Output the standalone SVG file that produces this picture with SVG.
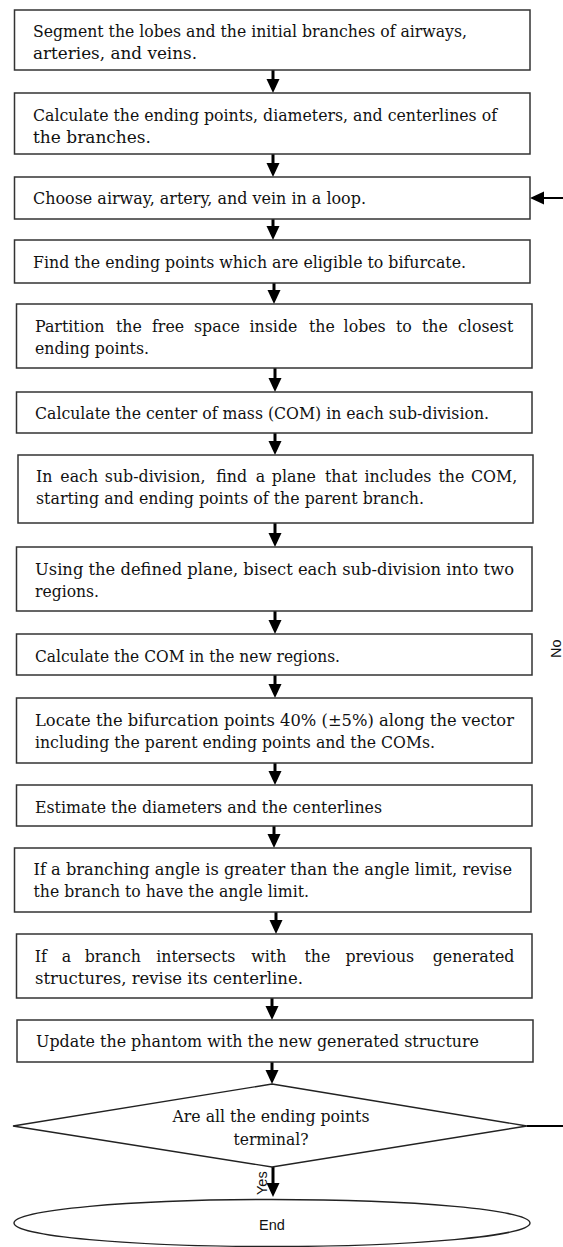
<svg xmlns="http://www.w3.org/2000/svg" width="563" height="1247" viewBox="0 0 563 1247">
<style>
.box{fill:#fff;stroke:#333;stroke-width:1.5}
.shape{fill:#fff;stroke:#222;stroke-width:1.4}
.t{font-family:"DejaVu Serif","Liberation Serif",serif;font-size:16.5px;fill:#111}
.w{font-size:15.8px}
.s{font-family:"Liberation Sans",Arial,sans-serif;font-size:14.5px;fill:#111}
.c{fill:none;stroke:#000;stroke-width:3}
.loop{fill:none;stroke:#000;stroke-width:2.2}
</style>
<defs>
<marker id="ah" markerUnits="userSpaceOnUse" markerWidth="15" markerHeight="14" refX="6" refY="6.5" orient="auto" viewBox="0 0 15 14">
<path d="M0,0 L14,6.5 L0,13 z" fill="#000"/>
</marker>
</defs>
<rect width="563" height="1247" fill="#fff"/>
<g id="connectors">
<line class="c" x1="273" y1="70" x2="273" y2="85" marker-end="url(#ah)"/>
<line class="c" x1="273" y1="154" x2="273" y2="169" marker-end="url(#ah)"/>
<line class="c" x1="273" y1="219" x2="273" y2="232" marker-end="url(#ah)"/>
<line class="c" x1="274" y1="283" x2="274" y2="296" marker-end="url(#ah)"/>
<line class="c" x1="275" y1="368" x2="275" y2="384" marker-end="url(#ah)"/>
<line class="c" x1="275" y1="433" x2="275" y2="447" marker-end="url(#ah)"/>
<line class="c" x1="275" y1="523" x2="275" y2="539" marker-end="url(#ah)"/>
<line class="c" x1="275" y1="611" x2="275" y2="626" marker-end="url(#ah)"/>
<line class="c" x1="275" y1="675" x2="275" y2="690" marker-end="url(#ah)"/>
<line class="c" x1="275" y1="763" x2="275" y2="777" marker-end="url(#ah)"/>
<line class="c" x1="274" y1="826" x2="274" y2="840" marker-end="url(#ah)"/>
<line class="c" x1="276" y1="912" x2="276" y2="926" marker-end="url(#ah)"/>
<line class="c" x1="272" y1="998" x2="272" y2="1012" marker-end="url(#ah)"/>
<line class="c" x1="272" y1="1062" x2="272" y2="1076" marker-end="url(#ah)"/>
<line class="c" x1="273" y1="1167" x2="273" y2="1189" marker-end="url(#ah)"/>
<path class="loop" d="M527,1126 H566 V198 H538" marker-end="url(#ah)"/>
<text class="s" transform="translate(267,1195) rotate(-90)">Yes</text>
<text class="s" transform="translate(561,658) rotate(-90)">No</text>
</g>
<g id="n1"><rect class="box" x="14.5" y="10" width="515.5" height="60"/>
<text class="t" x="33" y="37" textLength="434" lengthAdjust="spacingAndGlyphs">Segment the lobes and the initial branches of airways,</text>
<text class="t" x="33" y="59" textLength="164" lengthAdjust="spacingAndGlyphs">arteries, and veins.</text></g>
<g id="n2"><rect class="box" x="14.5" y="93" width="515.5" height="61"/>
<text class="t" x="33" y="121" textLength="464" lengthAdjust="spacingAndGlyphs">Calculate the ending points, diameters, and centerlines of</text>
<text class="t" x="33" y="143" textLength="118" lengthAdjust="spacingAndGlyphs">the branches.</text></g>
<g id="n3"><rect class="box" x="14.5" y="177" width="515.5" height="42"/>
<text class="t" x="33" y="204" textLength="333" lengthAdjust="spacingAndGlyphs">Choose airway, artery, and vein in a loop.</text></g>
<g id="n4"><rect class="box" x="14.5" y="240" width="515.5" height="43"/>
<text class="t" x="33" y="268" textLength="433" lengthAdjust="spacingAndGlyphs">Find the ending points which are eligible to bifurcate.</text></g>
<g id="n5"><rect class="box" x="16.5" y="304" width="515.5" height="64"/>
<text class="t w" y="332"><tspan x="35">Partition</tspan><tspan x="116">the</tspan><tspan x="152">free</tspan><tspan x="194">space</tspan><tspan x="249.5">inside</tspan><tspan x="309">the</tspan><tspan x="343.6">lobes</tspan><tspan x="396">to</tspan><tspan x="422">the</tspan><tspan x="458">closest</tspan></text>
<text class="t" x="35" y="354" textLength="114" lengthAdjust="spacingAndGlyphs">ending points.</text></g>
<g id="n6"><rect class="box" x="16.5" y="392" width="515.5" height="41"/>
<text class="t" x="35" y="419" textLength="454" lengthAdjust="spacingAndGlyphs">Calculate the center of mass (COM) in each sub-division.</text></g>
<g id="n7"><rect class="box" x="18" y="455" width="515" height="68"/>
<text class="t w" y="482"><tspan x="36">In</tspan><tspan x="60.3">each</tspan><tspan x="104.8">sub-division,</tspan><tspan x="216.2">find</tspan><tspan x="255.7">a</tspan><tspan x="271.8">plane</tspan><tspan x="325">that</tspan><tspan x="364.5">includes</tspan><tspan x="438.5">the</tspan><tspan x="471">COM,</tspan></text>
<text class="t" x="36" y="504" textLength="388" lengthAdjust="spacingAndGlyphs">starting and ending points of the parent branch.</text></g>
<g id="n8"><rect class="box" x="16.5" y="547" width="515.5" height="64"/>
<text class="t" x="35" y="575" textLength="479" lengthAdjust="spacingAndGlyphs">Using the defined plane, bisect each sub-division into two</text>
<text class="t" x="35" y="597" textLength="64" lengthAdjust="spacingAndGlyphs">regions.</text></g>
<g id="n9"><rect class="box" x="16.5" y="634" width="515.5" height="41"/>
<text class="t" x="35" y="662" textLength="305" lengthAdjust="spacingAndGlyphs">Calculate the COM in the new regions.</text></g>
<g id="n10"><rect class="box" x="16.5" y="698" width="515.5" height="65"/>
<text class="t" x="35" y="726" textLength="479" lengthAdjust="spacingAndGlyphs">Locate the bifurcation points 40% (±5%) along the vector</text>
<text class="t" x="35" y="748" textLength="400" lengthAdjust="spacingAndGlyphs">including the parent ending points and the COMs.</text></g>
<g id="n11"><rect class="box" x="16.5" y="785" width="515.5" height="41"/>
<text class="t" x="35" y="813" textLength="347" lengthAdjust="spacingAndGlyphs">Estimate the diameters and the centerlines</text></g>
<g id="n12"><rect class="box" x="14.5" y="848" width="516.5" height="64"/>
<text class="t" x="33.5" y="875" textLength="478.5" lengthAdjust="spacingAndGlyphs">If a branching angle is greater than the angle limit, revise</text>
<text class="t" x="33.5" y="897" textLength="275.5" lengthAdjust="spacingAndGlyphs">the branch to have the angle limit.</text></g>
<g id="n13"><rect class="box" x="16.5" y="934" width="515.5" height="64"/>
<text class="t w" y="962"><tspan x="34.8">If</tspan><tspan x="61.8">a</tspan><tspan x="84.7">branch</tspan><tspan x="156.2">intersects</tspan><tspan x="251.3">with</tspan><tspan x="304.5">the</tspan><tspan x="345.4">previous</tspan><tspan x="432.7">generated</tspan></text>
<text class="t" x="35" y="984" textLength="268" lengthAdjust="spacingAndGlyphs">structures, revise its centerline.</text></g>
<g id="n14"><rect class="box" x="17" y="1020" width="516" height="42"/>
<text class="t" x="36" y="1047" textLength="443" lengthAdjust="spacingAndGlyphs">Update the phantom with the new generated structure</text></g>
<g id="n15"><polygon class="shape" points="272,1084 527,1126 272,1167 13,1126"/>
<text class="t" x="271" y="1122" text-anchor="middle" textLength="197" lengthAdjust="spacingAndGlyphs">Are all the ending points</text>
<text class="t" x="271" y="1145" text-anchor="middle" textLength="75" lengthAdjust="spacingAndGlyphs">terminal?</text></g>
<g id="n16"><ellipse class="shape" cx="272" cy="1223" rx="258" ry="23.5"/>
<text class="s" x="272" y="1230" text-anchor="middle">End</text></g>
</svg>
